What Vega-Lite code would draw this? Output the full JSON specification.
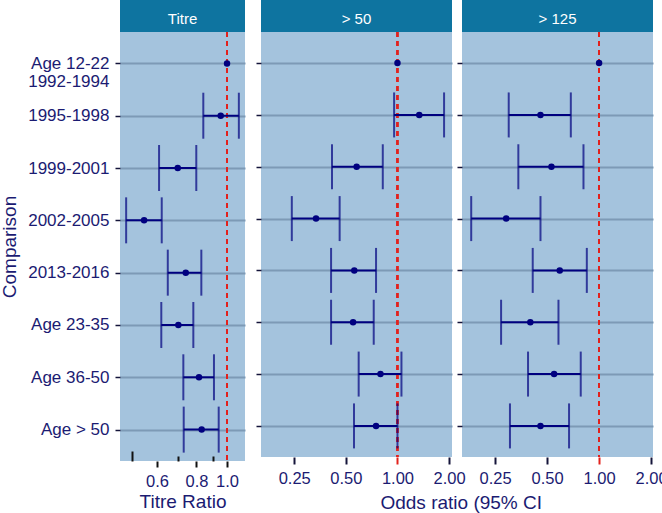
{
  "$schema": "https://vega.github.io/schema/vega-lite/v6.json",
  "padding": {"left": 0, "top": 0, "right": 0, "bottom": 0},
  "background": "white",
  "datasets": {
    "est": [
      {"panel": "Titre", "comparison": "Age 12-22|1992-1994", "est": 1.0},
      {"panel": "Titre", "comparison": "1995-1998", "est": 0.955, "lo": 0.841, "hi": 1.09},
      {"panel": "Titre", "comparison": "1999-2001", "est": 0.698, "lo": 0.609, "hi": 0.799},
      {"panel": "Titre", "comparison": "2002-2005", "est": 0.546, "lo": 0.479, "hi": 0.621},
      {"panel": "Titre", "comparison": "2013-2016", "est": 0.74, "lo": 0.649, "hi": 0.829},
      {"panel": "Titre", "comparison": "Age 23-35", "est": 0.701, "lo": 0.619, "hi": 0.782},
      {"panel": "Titre", "comparison": "Age 36-50", "est": 0.815, "lo": 0.727, "hi": 0.909},
      {"panel": "Titre", "comparison": "Age > 50", "est": 0.831, "lo": 0.729, "hi": 0.941},
      {"panel": "> 50", "comparison": "Age 12-22|1992-1994", "est": 1.0},
      {"panel": "> 50", "comparison": "1995-1998", "est": 1.34, "lo": 0.956, "hi": 1.87},
      {"panel": "> 50", "comparison": "1999-2001", "est": 0.578, "lo": 0.415, "hi": 0.821},
      {"panel": "> 50", "comparison": "2002-2005", "est": 0.335, "lo": 0.242, "hi": 0.46},
      {"panel": "> 50", "comparison": "2013-2016", "est": 0.56, "lo": 0.41, "hi": 0.75},
      {"panel": "> 50", "comparison": "Age 23-35", "est": 0.551, "lo": 0.41, "hi": 0.727},
      {"panel": "> 50", "comparison": "Age 36-50", "est": 0.796, "lo": 0.594, "hi": 1.055},
      {"panel": "> 50", "comparison": "Age > 50", "est": 0.75, "lo": 0.558, "hi": 1.0},
      {"panel": "> 125", "comparison": "Age 12-22|1992-1994", "est": 1.0},
      {"panel": "> 125", "comparison": "1995-1998", "est": 0.458, "lo": 0.3, "hi": 0.686},
      {"panel": "> 125", "comparison": "1999-2001", "est": 0.53, "lo": 0.341, "hi": 0.812},
      {"panel": "> 125", "comparison": "2002-2005", "est": 0.29, "lo": 0.182, "hi": 0.458},
      {"panel": "> 125", "comparison": "2013-2016", "est": 0.592, "lo": 0.413, "hi": 0.849},
      {"panel": "> 125", "comparison": "Age 23-35", "est": 0.4, "lo": 0.271, "hi": 0.582},
      {"panel": "> 125", "comparison": "Age 36-50", "est": 0.549, "lo": 0.388, "hi": 0.783},
      {"panel": "> 125", "comparison": "Age > 50", "est": 0.458, "lo": 0.305, "hi": 0.67}
    ],
    "strips": [{"strip": "Titre"}, {"strip": "> 50"}, {"strip": "> 125"}]
  },
  "config": {
    "view": {"fill": "#a4c3dd", "stroke": null},
    "font": "Liberation Sans",
    "axis": {
      "labelFont": "Liberation Sans",
      "titleFont": "Liberation Sans",
      "labelColor": "#1b1b72",
      "titleColor": "#1b1b72",
      "labelFontSize": 16.5,
      "titleFontSize": 19,
      "titleFontWeight": "normal",
      "gridColor": "#7d9ab6",
      "gridWidth": 2,
      "domain": false,
      "tickColor": "#14143a",
      "tickWidth": 1.5
    }
  },
  "hconcat": [
    {
      "vconcat": [
        {
          "width": 125, "height": 32,
          "view": {"fill": "#0e74a0", "stroke": null},
          "data": {"name": "strips"},
          "transform": [{"filter": "datum.strip == 'Titre'"}],
          "mark": {"type": "text", "color": "white", "fontSize": 15, "font": "Liberation Sans", "dy": 3},
          "encoding": {"text": {"field": "strip"}}
        },
        {
          "width": 125, "height": 429,
          "data": {"name": "est"},
          "transform": [{"filter": "datum.panel == 'Titre'"}],
          "layer": [
            {
              "mark": {"type": "rule", "color": "#e3221c", "strokeDash": [5, 4], "strokeWidth": 1.5},
              "encoding": {
                "x": {
                  "datum": 1, "type": "quantitative",
                  "scale": {"type": "log", "domain": [0.458, 1.14], "nice": false, "zero": false},
                  "axis": {
                    "title": "Titre Ratio",
                    "values": [0.5, 0.6, 0.7, 0.8, 0.9, 1.0],
                    "labelExpr": "(datum.value == 0.6 || datum.value == 0.8 || datum.value == 1) ? format(datum.value, '.1f') : ''",
                    "tickSize": {"condition": [{"test": "datum.value == 0.5", "value": -10}, {"test": "datum.value == 0.7 || datum.value == 0.9", "value": -5}], "value": 6},
                    "tickColor": "#111111",
                    "tickWidth": 2,
                    "labelPadding": 6,
                    "gridOpacity": {"condition": {"test": "datum.value == 0.6 || datum.value == 0.8 || datum.value == 1", "value": 1}, "value": 0},
                    "titlePadding": 3
                  }
                }
              }
            },
            {
              "mark": {"type": "rule", "color": "#00007f", "strokeWidth": 2},
              "encoding": {
                "y": {
                  "field": "comparison", "type": "nominal",
                  "sort": ["Age 12-22|1992-1994", "1995-1998", "1999-2001", "2002-2005", "2013-2016", "Age 23-35", "Age 36-50", "Age > 50"],
                  "scale": {"type": "point", "padding": 0.6},
                  "axis": {"title": "Comparison", "labelExpr": "split(datum.value, '|')", "labelFontSize": 17, "tickSize": 5, "labelPadding": 6, "grid": true, "titlePadding": 8, "labelLineHeight": 18}
                },
                "x": {"field": "lo", "type": "quantitative"},
                "x2": {"field": "hi"}
              }
            },
            {
              "mark": {"type": "tick", "color": "#00007f", "thickness": 2, "size": 46},
              "encoding": {
                "y": {"field": "comparison", "type": "nominal", "sort": ["Age 12-22|1992-1994", "1995-1998", "1999-2001", "2002-2005", "2013-2016", "Age 23-35", "Age 36-50", "Age > 50"]},
                "x": {"field": "lo", "type": "quantitative"}
              }
            },
            {
              "mark": {"type": "tick", "color": "#00007f", "thickness": 2, "size": 46},
              "encoding": {
                "y": {"field": "comparison", "type": "nominal", "sort": ["Age 12-22|1992-1994", "1995-1998", "1999-2001", "2002-2005", "2013-2016", "Age 23-35", "Age 36-50", "Age > 50"]},
                "x": {"field": "hi", "type": "quantitative"}
              }
            },
            {
              "mark": {"type": "circle", "color": "#00007f", "opacity": 1, "size": 42},
              "encoding": {
                "y": {"field": "comparison", "type": "nominal", "sort": ["Age 12-22|1992-1994", "1995-1998", "1999-2001", "2002-2005", "2013-2016", "Age 23-35", "Age 36-50", "Age > 50"]},
                "x": {"field": "est", "type": "quantitative"}
              }
            }
          ]
        }
      ],
      "spacing": 0,
      "bounds": "flush"
    },
    {
      "title": {"text": "Odds ratio (95% CI", "orient": "bottom", "anchor": "middle", "fontSize": 19, "fontWeight": "normal", "color": "#1b1b72", "font": "Liberation Sans", "offset": 7},
      "bounds": "flush",
      "columns": 2,
      "spacing": {"row": 0, "column": 10},
      "concat": [
        {
          "width": 191, "height": 32,
          "view": {"fill": "#0e74a0", "stroke": null},
          "data": {"name": "strips"},
          "transform": [{"filter": "datum.strip == '> 50'"}],
          "mark": {"type": "text", "color": "white", "fontSize": 15, "font": "Liberation Sans", "dy": 3},
          "encoding": {"text": {"field": "strip"}}
        },
        {
          "width": 191, "height": 32,
          "view": {"fill": "#0e74a0", "stroke": null},
          "data": {"name": "strips"},
          "transform": [{"filter": "datum.strip == '> 125'"}],
          "mark": {"type": "text", "color": "white", "fontSize": 15, "font": "Liberation Sans", "dy": 3},
          "encoding": {"text": {"field": "strip"}}
        },
        {
          "width": 191, "height": 425,
          "data": {"name": "est"},
          "transform": [{"filter": "datum.panel == '> 50'"}],
          "layer": [
            {
              "mark": {"type": "rule", "color": "#e3221c", "strokeDash": [5, 4], "strokeWidth": 1.5},
              "encoding": {
                "x": {
                  "datum": 1, "type": "quantitative",
                  "scale": {"type": "log", "domain": [0.16, 2.08], "nice": false, "zero": false},
                  "axis": {"title": null, "values": [0.25, 0.5, 1, 2], "format": ".2f", "tickSize": 7, "tickWidth": 2, "tickColor": {"condition": {"test": "datum.value == 1", "value": "#e3221c"}, "value": "#14143a"}, "labelPadding": 6}
                }
              }
            },
            {
              "mark": {"type": "rule", "color": "#00007f", "strokeWidth": 2},
              "encoding": {
                "y": {
                  "field": "comparison", "type": "nominal",
                  "sort": ["Age 12-22|1992-1994", "1995-1998", "1999-2001", "2002-2005", "2013-2016", "Age 23-35", "Age 36-50", "Age > 50"],
                  "scale": {"type": "point", "padding": 0.6},
                  "axis": {"title": null, "labels": false, "tickSize": 5, "grid": true}
                },
                "x": {"field": "lo", "type": "quantitative"},
                "x2": {"field": "hi"}
              }
            },
            {
              "mark": {"type": "tick", "color": "#00007f", "thickness": 2, "size": 45},
              "encoding": {
                "y": {"field": "comparison", "type": "nominal", "sort": ["Age 12-22|1992-1994", "1995-1998", "1999-2001", "2002-2005", "2013-2016", "Age 23-35", "Age 36-50", "Age > 50"]},
                "x": {"field": "lo", "type": "quantitative"}
              }
            },
            {
              "mark": {"type": "tick", "color": "#00007f", "thickness": 2, "size": 45},
              "encoding": {
                "y": {"field": "comparison", "type": "nominal", "sort": ["Age 12-22|1992-1994", "1995-1998", "1999-2001", "2002-2005", "2013-2016", "Age 23-35", "Age 36-50", "Age > 50"]},
                "x": {"field": "hi", "type": "quantitative"}
              }
            },
            {
              "mark": {"type": "circle", "color": "#00007f", "opacity": 1, "size": 42},
              "encoding": {
                "y": {"field": "comparison", "type": "nominal", "sort": ["Age 12-22|1992-1994", "1995-1998", "1999-2001", "2002-2005", "2013-2016", "Age 23-35", "Age 36-50", "Age > 50"]},
                "x": {"field": "est", "type": "quantitative"}
              }
            }
          ]
        },
        {
          "width": 191, "height": 425,
          "data": {"name": "est"},
          "transform": [{"filter": "datum.panel == '> 125'"}],
          "layer": [
            {
              "mark": {"type": "rule", "color": "#e3221c", "strokeDash": [5, 4], "strokeWidth": 1.5},
              "encoding": {
                "x": {
                  "datum": 1, "type": "quantitative",
                  "scale": {"type": "log", "domain": [0.161, 2.05], "nice": false, "zero": false},
                  "axis": {"title": null, "values": [0.25, 0.5, 1, 2], "format": ".2f", "tickSize": 7, "tickWidth": 2, "tickColor": {"condition": {"test": "datum.value == 1", "value": "#e3221c"}, "value": "#14143a"}, "labelPadding": 6}
                }
              }
            },
            {
              "mark": {"type": "rule", "color": "#00007f", "strokeWidth": 2},
              "encoding": {
                "y": {
                  "field": "comparison", "type": "nominal",
                  "sort": ["Age 12-22|1992-1994", "1995-1998", "1999-2001", "2002-2005", "2013-2016", "Age 23-35", "Age 36-50", "Age > 50"],
                  "scale": {"type": "point", "padding": 0.6},
                  "axis": {"title": null, "labels": false, "tickSize": 5, "grid": true}
                },
                "x": {"field": "lo", "type": "quantitative"},
                "x2": {"field": "hi"}
              }
            },
            {
              "mark": {"type": "tick", "color": "#00007f", "thickness": 2, "size": 45},
              "encoding": {
                "y": {"field": "comparison", "type": "nominal", "sort": ["Age 12-22|1992-1994", "1995-1998", "1999-2001", "2002-2005", "2013-2016", "Age 23-35", "Age 36-50", "Age > 50"]},
                "x": {"field": "lo", "type": "quantitative"}
              }
            },
            {
              "mark": {"type": "tick", "color": "#00007f", "thickness": 2, "size": 45},
              "encoding": {
                "y": {"field": "comparison", "type": "nominal", "sort": ["Age 12-22|1992-1994", "1995-1998", "1999-2001", "2002-2005", "2013-2016", "Age 23-35", "Age 36-50", "Age > 50"]},
                "x": {"field": "hi", "type": "quantitative"}
              }
            },
            {
              "mark": {"type": "circle", "color": "#00007f", "opacity": 1, "size": 42},
              "encoding": {
                "y": {"field": "comparison", "type": "nominal", "sort": ["Age 12-22|1992-1994", "1995-1998", "1999-2001", "2002-2005", "2013-2016", "Age 23-35", "Age 36-50", "Age > 50"]},
                "x": {"field": "est", "type": "quantitative"}
              }
            }
          ]
        }
      ]
    }
  ],
  "spacing": 10
}
